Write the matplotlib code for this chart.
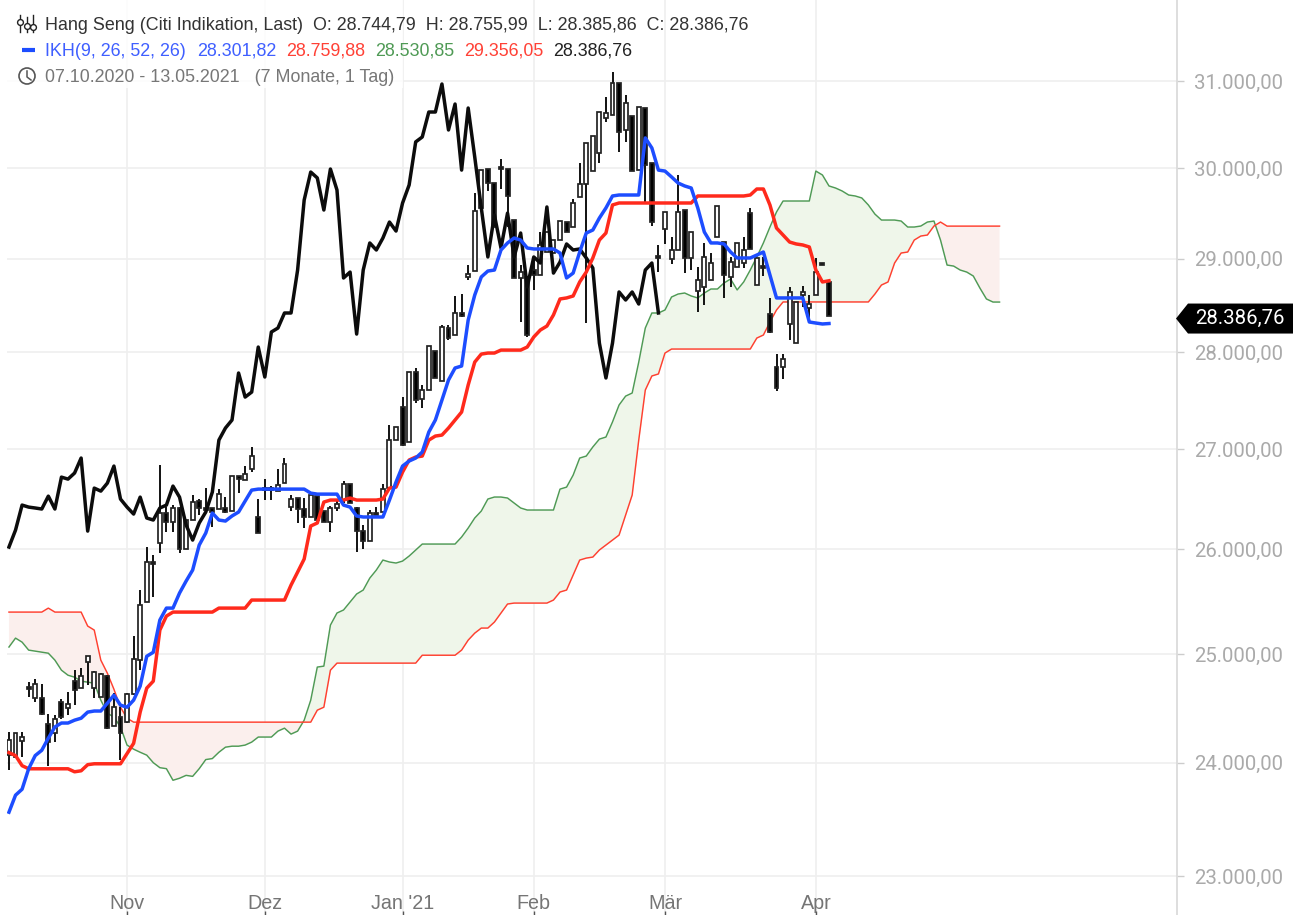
import numpy as np
import matplotlib
matplotlib.use('Agg')
import matplotlib.pyplot as plt
from matplotlib.patches import Circle, Polygon, Rectangle
from matplotlib.ticker import NullLocator
from matplotlib.transforms import IdentityTransform, ScaledTranslation

# daily candles, one entry per bar
opens = [24068, 24050, 24195, 24690, 24589, 24589, 24350, 24268, 24552, 24497,
         24746, 24681, 24923, 24681, 24598, 24792, 24331, 24414, 24368, 24625,
         24942, 25492, 25878, 26063, 26358, 26270, 26408, 26004, 26289, 26477,
         26408, 26408, 26398, 26408, 26378, 26726, 26686, 26797, 26319, 26606,
         26606, 26576, 26656, 26417, 26507, 26398, 26319, 26526, 26378, 26270,
         26408, 26487, 26646, 26408, 26181, 26082, 26358, 26368, 26606, 27090,
         27428, 27070, 27791, 27510, 27604, 28011, 27698, 28254, 28180, 28414,
         28800, 28865, 29557, 29992, 29835, 30015, 29992, 29423, 28790, 28800,
         28876, 28822, 29072, 29061, 29203, 29401, 29346, 29679, 29824, 29970,
         30173, 30572, 30606, 30977, 30435, 30595, 29981, 30687, 30060, 29029,
         29324, 28996, 29094, 29534, 29007, 28650, 28693, 28768, 29236, 29181,
         28800, 28909, 28952, 29500, 28714, 28920, 28403, 27843, 27843, 28297,
         28095, 28606, 28467, 28606, 28952, 28744.79]
closes = [24204, 24268, 24231, 24672, 24718, 24441, 24186, 24395, 24414, 24533,
          24662, 24792, 24979, 24829, 24811, 24313, 24506, 24268, 24625, 24951,
          25463, 25878, 25858, 26358, 26270, 26408, 26004, 26289, 26467, 26408,
          26388, 26368, 26546, 26368, 26726, 26696, 26746, 26928, 26161, 26586,
          26586, 26636, 26848, 26497, 26398, 26319, 26536, 26289, 26270, 26408,
          26447, 26646, 26457, 26181, 26082, 26358, 26338, 26596, 27090, 27223,
          27040, 27791, 27500, 27604, 28064, 27729, 28264, 28148, 28414, 28382,
          28833, 29523, 29981, 29835, 29346, 29992, 29690, 28790, 28854, 28180,
          28822, 29149, 29291, 29203, 29412, 29291, 29612, 29824, 30287, 30366,
          30641, 30630, 30977, 30412, 30745, 29970, 30698, 30038, 29401, 29007,
          29511, 29094, 29511, 29007, 29291, 28768, 29018, 28952, 29579, 28822,
          28963, 29171, 29094, 29105, 29007, 28898, 28212, 27625, 27926, 28639,
          28532, 28639, 28510, 28854, 28931, 28386.76]
highs = [24277, 24268, 24277, 24736, 24764, 24718, 24441, 24432, 24579, 24644,
         24848, 24867, 24979, 24839, 24820, 24801, 24635, 24506, 24635, 25168,
         25607, 26024, 25945, 26838, 26417, 26437, 26417, 26289, 26536, 26497,
         26606, 26408, 26596, 26516, 26726, 26726, 26827, 27020, 26497, 26696,
         26626, 26797, 26908, 26536, 26507, 26507, 26536, 26526, 26378, 26427,
         26487, 26676, 26646, 26417, 26240, 26388, 26417, 26646, 27244, 27223,
         27531, 27791, 27833, 27656, 28064, 28011, 28286, 28286, 28596, 28617,
         28931, 29723, 29981, 29992, 29835, 30105, 29992, 29423, 28931, 28800,
         29018, 29291, 29291, 29203, 29412, 29401, 29656, 30060, 30287, 30366,
         30641, 30814, 31105, 30977, 30837, 30595, 30698, 30687, 30060, 29149,
         29511, 29236, 29925, 29534, 29291, 28909, 29171, 29061, 29579, 29181,
         29018, 29171, 29236, 29557, 29007, 29018, 28575, 27978, 27978, 28693,
         28532, 28703, 28606, 29007, 28952, 28755.99]
lows = [23933, 24050, 24050, 24598, 24552, 24432, 23969, 24186, 24395, 24432,
        24524, 24681, 24709, 24589, 24598, 24304, 24331, 24023, 24359, 24616,
        24848, 25492, 25540, 25965, 26171, 26171, 25965, 26004, 26289, 26338,
        26388, 26220, 26398, 26358, 26378, 26556, 26686, 26767, 26161, 26487,
        26487, 26576, 26656, 26378, 26260, 26210, 26319, 26289, 26270, 26171,
        26378, 26457, 26457, 25975, 26004, 26082, 26338, 26368, 26606, 27090,
        27030, 27070, 27469, 27418, 27604, 27729, 27698, 28127, 28180, 28371,
        28768, 28865, 29557, 29746, 29346, 29768, 29346, 28790, 28318, 28159,
        28660, 28822, 29072, 29061, 29203, 29291, 29346, 29679, 28307, 29970,
        30060, 30526, 30606, 30185, 30299, 29970, 29981, 29612, 29357, 28854,
        29160, 28942, 29094, 28843, 28877, 28424, 28500, 28768, 29236, 28575,
        28693, 28909, 28898, 29105, 28714, 28811, 28201, 27594, 27718, 28127,
        28095, 28478, 28339, 28606, 28931, 28385.86]

# Ichimoku lines
tenkan = [23558, 23709, 23762, 23945, 24064, 24112, 24222, 24324, 24360, 24360,
          24386, 24404, 24460, 24470, 24470, 24542, 24616, 24524, 24505, 24570,
          24700, 24978, 25016, 25320, 25434, 25434, 25578, 25693, 25800, 26043,
          26161, 26358, 26289, 26279, 26329, 26368, 26477, 26586, 26596, 26596,
          26596, 26596, 26596, 26596, 26596, 26596, 26556, 26546, 26546, 26546,
          26546, 26437, 26417, 26329, 26319, 26319, 26319, 26319, 26487, 26666,
          26827, 26878, 26908, 26969, 27172, 27295, 27500, 27708, 27833, 27854,
          28339, 28606, 28801, 28865, 28876, 29094, 29171, 29225, 29203, 29116,
          29105, 29105, 29105, 29105, 29061, 28790, 28843, 29072, 29280, 29313,
          29445, 29557, 29690, 29701, 29701, 29701, 29701, 30344, 30230, 29980,
          29969, 29903, 29835, 29802, 29779, 29557, 29291, 29171, 29171, 29160,
          29072, 29007, 29007, 29007, 29039, 29072, 28822, 28575, 28575, 28575,
          28575, 28575, 28318, 28307, 28297, 28301.82]
kijun = [24091, 24064, 23973, 23945, 23945, 23945, 23945, 23945, 23945, 23945,
         23918, 23927, 23982, 23990, 23990, 23990, 23990, 23990, 24082, 24175,
         24460, 24681, 24746, 25225, 25358, 25396, 25396, 25396, 25396, 25396,
         25396, 25396, 25434, 25434, 25434, 25434, 25434, 25511, 25511, 25511,
         25511, 25511, 25511, 25655, 25780, 25907, 26230, 26260, 26467, 26487,
         26487, 26487, 26507, 26487, 26487, 26487, 26487, 26497, 26606, 26616,
         26767, 26888, 26918, 26928, 27090, 27131, 27141, 27213, 27295, 27377,
         27656, 27895, 27979, 27990, 27990, 28021, 28021, 28021, 28021, 28053,
         28159, 28233, 28275, 28393, 28564, 28575, 28596, 28747, 28854, 29007,
         29203, 29280, 29590, 29612, 29612, 29612, 29612, 29612, 29612, 29612,
         29612, 29612, 29612, 29612, 29612, 29690, 29690, 29690, 29690, 29690,
         29690, 29690, 29690, 29701, 29768, 29768, 29590, 29335, 29258, 29181,
         29160, 29149, 29127, 28876, 28747, 28759.88]
chikou = [26024, 26190, 26437, 26417, 26408, 26398, 26526, 26398, 26716, 26696,
          26757, 26908, 26180, 26606, 26576, 26656, 26827, 26497, 26417, 26348,
          26516, 26309, 26289, 26408, 26437, 26626, 26516, 26240, 26092, 26260,
          26368, 26566, 27090, 27213, 27295, 27781, 27531, 27583, 28053, 27739,
          28212, 28254, 28414, 28414, 28876, 29645, 29958, 29892, 29534, 29992,
          29757, 28790, 28854, 28190, 28876, 29171, 29094, 29225, 29401, 29302,
          29612, 29813, 30299, 30355, 30641, 30641, 30965, 30435, 30733, 29980,
          30687, 30128, 29557, 29018, 29478, 29116, 29500, 29018, 29280, 28693,
          29018, 28952, 29568, 28843, 28963, 29160, 29094, 29105, 29007, 28898,
          28095, 27729, 28095, 28639, 28553, 28639, 28510, 28876, 28952, 28414]
span_a = [25065, 25149, 25111, 25036, 25026, 25016, 25007, 24942, 24848, 24801,
          24783, 24746, 24736, 24727, 24570, 24450, 24414, 24324, 24159, 24122,
          24094, 24068, 24000, 23955, 23946, 23842, 23860, 23886, 23877, 23946,
          24028, 24037, 24094, 24140, 24149, 24149, 24159, 24186, 24232, 24232,
          24232, 24286, 24313, 24259, 24286, 24386, 24570, 24877, 24886, 25272,
          25387, 25416, 25492, 25569, 25607, 25722, 25800, 25897, 25878, 25868,
          25887, 25936, 25995, 26053, 26053, 26053, 26053, 26053, 26053, 26122,
          26210, 26309, 26378, 26497, 26517, 26517, 26507, 26457, 26408, 26388,
          26388, 26388, 26388, 26388, 26596, 26616, 26736, 26908, 26928, 27020,
          27100, 27121, 27275, 27449, 27541, 27573, 27895, 28254, 28414, 28414,
          28446, 28585, 28617, 28628, 28596, 28575, 28628, 28671, 28671, 28736,
          28779, 28661, 28747, 28876, 29018, 29171, 29346, 29512, 29634, 29634,
          29634, 29634, 29634, 29969, 29925, 29802, 29779, 29746, 29701, 29690,
          29668, 29590, 29489, 29423, 29423, 29423, 29412, 29346, 29346, 29357,
          29401, 29412, 29203, 28930, 28919, 28876, 28854, 28811, 28682, 28564,
          28531, 28530.85]
span_b = [25396, 25396, 25396, 25396, 25396, 25396, 25434, 25396, 25396, 25396,
          25396, 25396, 25263, 25225, 24942, 24820, 24671, 24505, 24404, 24368,
          24368, 24368, 24368, 24368, 24368, 24368, 24368, 24368, 24368, 24368,
          24368, 24368, 24368, 24368, 24368, 24368, 24368, 24368, 24368, 24368,
          24368, 24368, 24368, 24368, 24368, 24368, 24368, 24478, 24505, 24848,
          24914, 24914, 24914, 24914, 24914, 24914, 24914, 24914, 24914, 24914,
          24914, 24914, 24914, 24988, 24988, 24988, 24988, 24988, 24988, 25036,
          25130, 25196, 25244, 25244, 25301, 25387, 25473, 25482, 25482, 25482,
          25482, 25482, 25482, 25511, 25588, 25607, 25751, 25897, 25916, 25926,
          25995, 26043, 26092, 26141, 26338, 26537, 27090, 27604, 27750, 27771,
          27990, 28032, 28032, 28032, 28032, 28032, 28032, 28032, 28032, 28032,
          28032, 28032, 28032, 28032, 28148, 28180, 28318, 28446, 28532, 28532,
          28532, 28532, 28532, 28532, 28532, 28532, 28532, 28532, 28532, 28532,
          28532, 28532, 28617, 28714, 28747, 28952, 29061, 29072, 29203, 29247,
          29258, 29357, 29401, 29356, 29356, 29356, 29356, 29356, 29356, 29356,
          29356, 29356.05]

y_ticks = [23000, 24000, 25000, 26000, 27000, 28000, 29000, 30000, 31000]
y_labels = ['23.000,00', '24.000,00', '25.000,00', '26.000,00', '27.000,00',
            '28.000,00', '29.000,00', '30.000,00', '31.000,00']
month_bars = [18, 39, 60, 80, 100, 123]
month_labels = ['Nov', 'Dez', "Jan '21", 'Feb', 'Mär', 'Apr']

W, H = 1296, 915
GRID = '#efefef'


def px(x, y):
    return x / W, 1 - y / H


fig = plt.figure(figsize=(W / 100, H / 100), dpi=100, facecolor='white')
ax = fig.add_axes([7 / W, 0, (1177 - 7) / W, 1])
ax.set_yscale('log')
ax.set_ylim(22666, 31957)
ax.set_xlim(-0.3, 178.05)

ax.yaxis.tick_right()
ax.set_yticks(y_ticks)
ax.set_yticklabels(y_labels, family='Roboto', fontsize=14.7, color='#aaaaaa')
ax.set_xticks(month_bars)
ax.set_xticklabels(month_labels, family='Liberation Sans', fontsize=14.2, color='#757575')
ax.yaxis.set_minor_locator(NullLocator())
ax.xaxis.set_minor_locator(NullLocator())
ax.tick_params(axis='y', length=5, width=1, color='#cccccc', pad=7)
ax.tick_params(axis='x', direction='in', length=3, width=1, color='#555555', pad=-15)
ax.grid(True, color=GRID, lw=1.2)
ax.set_axisbelow(True)
for side in ['left', 'top', 'bottom']:
    ax.spines[side].set_visible(False)
ax.spines['right'].set_color('#d8d8d8')
ax.spines['right'].set_linewidth(1.2)

# cloud
cloud_x = np.arange(len(span_a))
a = np.array(span_a, dtype=float)
b = np.array(span_b, dtype=float)
ax.fill_between(cloud_x, a, b, where=a >= b, interpolate=True, color='#eff6ea', lw=0, zorder=1)
ax.fill_between(cloud_x, a, b, where=a <= b, interpolate=True, color='#fbefed', lw=0, zorder=1)
ax.plot(cloud_x, span_a, color='#4f9a55', lw=1.05, zorder=2)
ax.plot(cloud_x, span_b, color='#ff4030', lw=1.05, zorder=2)

# candles
bars = np.arange(len(opens))
ax.vlines(bars, lows, highs, color='#111111', lw=1.4, zorder=3)
for i in bars:
    up = closes[i] >= opens[i]
    ax.bar(i, abs(closes[i] - opens[i]), bottom=min(opens[i], closes[i]), width=0.6,
           facecolor='white' if up else 'black', edgecolor='#222222', lw=1.25, zorder=4)

ax.plot(np.arange(len(chikou)), chikou, color='#0c0c0c', lw=2.5, zorder=5, solid_joinstyle='round')
ax.plot(np.arange(len(kijun)), kijun, color='#ff2a1c', lw=2.5, zorder=6, solid_joinstyle='round')
ax.plot(np.arange(len(tenkan)), tenkan, color='#1d4dff', lw=2.5, zorder=7, solid_joinstyle='round')

# legend box sits over the grid
fig.add_artist(Rectangle(px(7, 88), 396 / W, 88 / H, transform=fig.transFigure,
                         facecolor='white', edgecolor='none', alpha=0.8, zorder=8))

LEGEND_FONT = dict(family='Liberation Sans', fontsize=12.9, va='center', ha='left', zorder=9)
fig.text(*px(45, 25), "Hang Seng (Citi Indikation, Last)  O: 28.744,79  H: 28.755,99  L: 28.385,86  C: 28.386,76",
         color='#333333', **LEGEND_FONT)
ikh_parts = [(45, 'IKH(9, 26, 52, 26)', '#3f5fff'), (197, '28.301,82', '#3f5fff'),
             (286, '28.759,88', '#ff4136'), (375, '28.530,85', '#4f9a55'),
             (464, '29.356,05', '#ff4136'), (553, '28.386,76', '#222222')]
for x_pos, txt, col in ikh_parts:
    fig.text(*px(x_pos, 51), txt, color=col, **LEGEND_FONT)
fig.text(*px(45, 77), '07.10.2020 - 13.05.2021   (7 Monate, 1 Tag)', color='#777777', **LEGEND_FONT)

# legend icons
for x_pos, y_top, y_bot, y_body in [(20, 15, 32, 22), (27, 17, 32, 26), (33, 15, 32, 27)]:
    fig.add_artist(plt.Line2D([px(x_pos, 0)[0]] * 2, [px(0, y_top)[1], px(0, y_bot)[1]],
                              color='#222222', lw=1, zorder=9))
    fig.add_artist(plt.Line2D([px(x_pos, 0)[0]], [px(0, y_body)[1]], marker='o', ms=4.2,
                              mfc='white', mec='#222222', mew=1, zorder=9))
fig.add_artist(plt.Line2D([px(22, 0)[0], px(35, 0)[0]], [px(0, 50)[1]] * 2, color='#1d4dff', lw=3,
                          solid_capstyle='butt', zorder=9))
fig.add_artist(Circle((27, H - 76), 8, transform=IdentityTransform(), facecolor='white',
                      edgecolor='#555555', lw=1.2, zorder=9))
fig.add_artist(plt.Line2D([px(27, 0)[0], px(27, 0)[0], px(31, 0)[0]],
                          [px(0, 71)[1], px(0, 77)[1], px(0, 80)[1]], color='#555555', lw=1.1, zorder=10))

# last price tag
tag_y = ax.transData.transform((0, closes[-1]))[1] - 3
fig.add_artist(Polygon([(1176, tag_y), (1188, tag_y + 15), (1293, tag_y + 15), (1293, tag_y - 15), (1188, tag_y - 15)],
                       closed=True, transform=IdentityTransform(), facecolor='black', edgecolor='none', zorder=9))
fig.text(1195 / W, tag_y / H, '28.386,76', family='Roboto', fontsize=14.7, color='white',
         va='center', ha='left', zorder=10)

fig.savefig('out.png', dpi=100, facecolor='white')
